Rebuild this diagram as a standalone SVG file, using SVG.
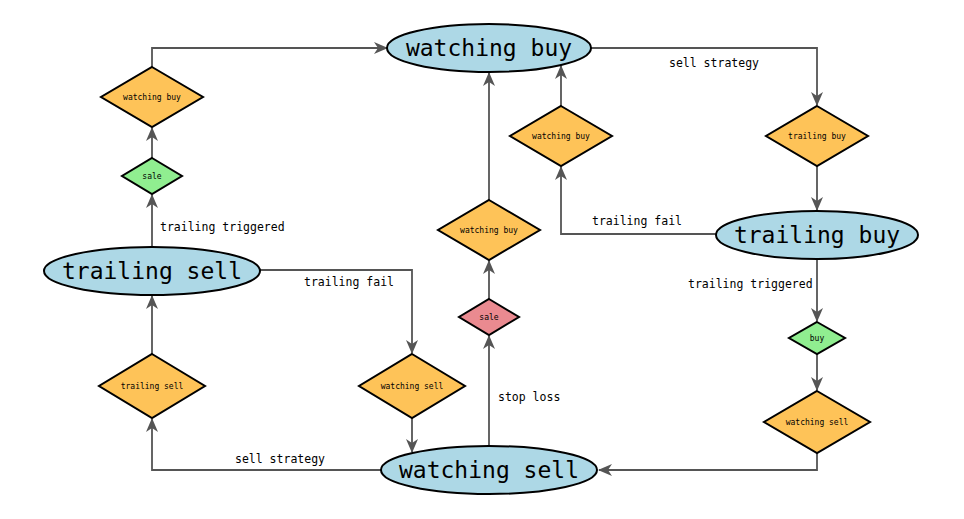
<svg xmlns="http://www.w3.org/2000/svg" width="964" height="519" viewBox="0 0 964 519">
<style>
.st ellipse{fill:#add8e6;stroke:#000;stroke-width:2}
.st text{font-family:"DejaVu Sans Mono",monospace;font-size:23px;text-anchor:middle;fill:#000}
.dm polygon{stroke:#000;stroke-width:2}
.dm text{font-family:"DejaVu Sans Mono",monospace;font-size:8px;text-anchor:middle;fill:#000}
.or polygon{fill:#fec358}
.gr polygon{fill:#90ee90}
.pk polygon{fill:#ea8a90}
#edges path{fill:none;stroke:#555;stroke-width:1.8;marker-end:url(#ah)}
#edges text{font-family:"DejaVu Sans Mono",monospace;font-size:11.5px;fill:#000}
</style>
<defs>
<marker id="ah" markerUnits="userSpaceOnUse" markerWidth="14" markerHeight="12" viewBox="0 0 14 12" refX="13" refY="6" orient="auto">
<path d="M0,0 L14,6 L0,12 L4,6 z" fill="#555"/>
</marker>
</defs>
<rect width="964" height="519" fill="#fff"/>
<g id="edges">
<path d="M152,67 V48 H387"/>
<path d="M152,158 V128"/>
<path d="M152,247 V195"/>
<text x="160" y="231">trailing triggered</text>
<path d="M152,354 V296"/>
<path d="M381,470 H152 V419"/>
<text x="235" y="463">sell strategy</text>
<path d="M260,270 H412 V353"/>
<text x="304" y="286">trailing fail</text>
<path d="M412,418 V452"/>
<path d="M489,446 V336"/>
<text x="498" y="401">stop loss</text>
<path d="M489,299 V261"/>
<path d="M489,200 V73"/>
<path d="M561,106 V66"/>
<path d="M716,234 H561 V167"/>
<text x="592" y="225">trailing fail</text>
<path d="M591,48 H817 V105"/>
<text x="669" y="67">sell strategy</text>
<path d="M817,166 V210"/>
<path d="M817,259 L817,321"/>
<text x="688" y="288">trailing triggered</text>
<path d="M817,354 V390"/>
<path d="M817,453 V470 H599"/>
</g>
<g id="n-watching-buy" class="st"><ellipse cx="489" cy="48" rx="102" ry="24"/><text x="489" y="56">watching buy</text></g>
<g id="n-trailing-buy" class="st"><ellipse cx="817" cy="235" rx="101" ry="24"/><text x="817" y="243">trailing buy</text></g>
<g id="n-trailing-sell" class="st"><ellipse cx="152" cy="271" rx="108" ry="24"/><text x="152" y="279">trailing sell</text></g>
<g id="n-watching-sell" class="st"><ellipse cx="489" cy="470" rx="108" ry="24"/><text x="489" y="478">watching sell</text></g>
<g id="d1" class="dm or"><polygon points="152,67 203,97 152,127 101,97"/><text x="152" y="100">watching buy</text></g>
<g id="d2" class="dm gr"><polygon points="152,158 182,176 152,194 122,176"/><text x="152" y="179">sale</text></g>
<g id="d3" class="dm or"><polygon points="561,106 612,136 561,166 510,136"/><text x="561" y="139">watching buy</text></g>
<g id="d4" class="dm or"><polygon points="817,106 868,136 817,166 766,136"/><text x="817" y="139">trailing buy</text></g>
<g id="d5" class="dm or"><polygon points="489,200 540,230 489,260 438,230"/><text x="489" y="233">watching buy</text></g>
<g id="d6" class="dm pk"><polygon points="489,299 519,317 489,335 459,317"/><text x="489" y="320">sale</text></g>
<g id="d7" class="dm gr"><polygon points="817,322 845,338 817,354 789,338"/><text x="817" y="341">buy</text></g>
<g id="d8" class="dm or"><polygon points="817,391 870,422 817,453 764,422"/><text x="817" y="425">watching sell</text></g>
<g id="d9" class="dm or"><polygon points="152,354 205,386 152,418 99,386"/><text x="152" y="389">trailing sell</text></g>
<g id="d10" class="dm or"><polygon points="412,354 465,386 412,418 359,386"/><text x="412" y="389">watching sell</text></g>
</svg>
